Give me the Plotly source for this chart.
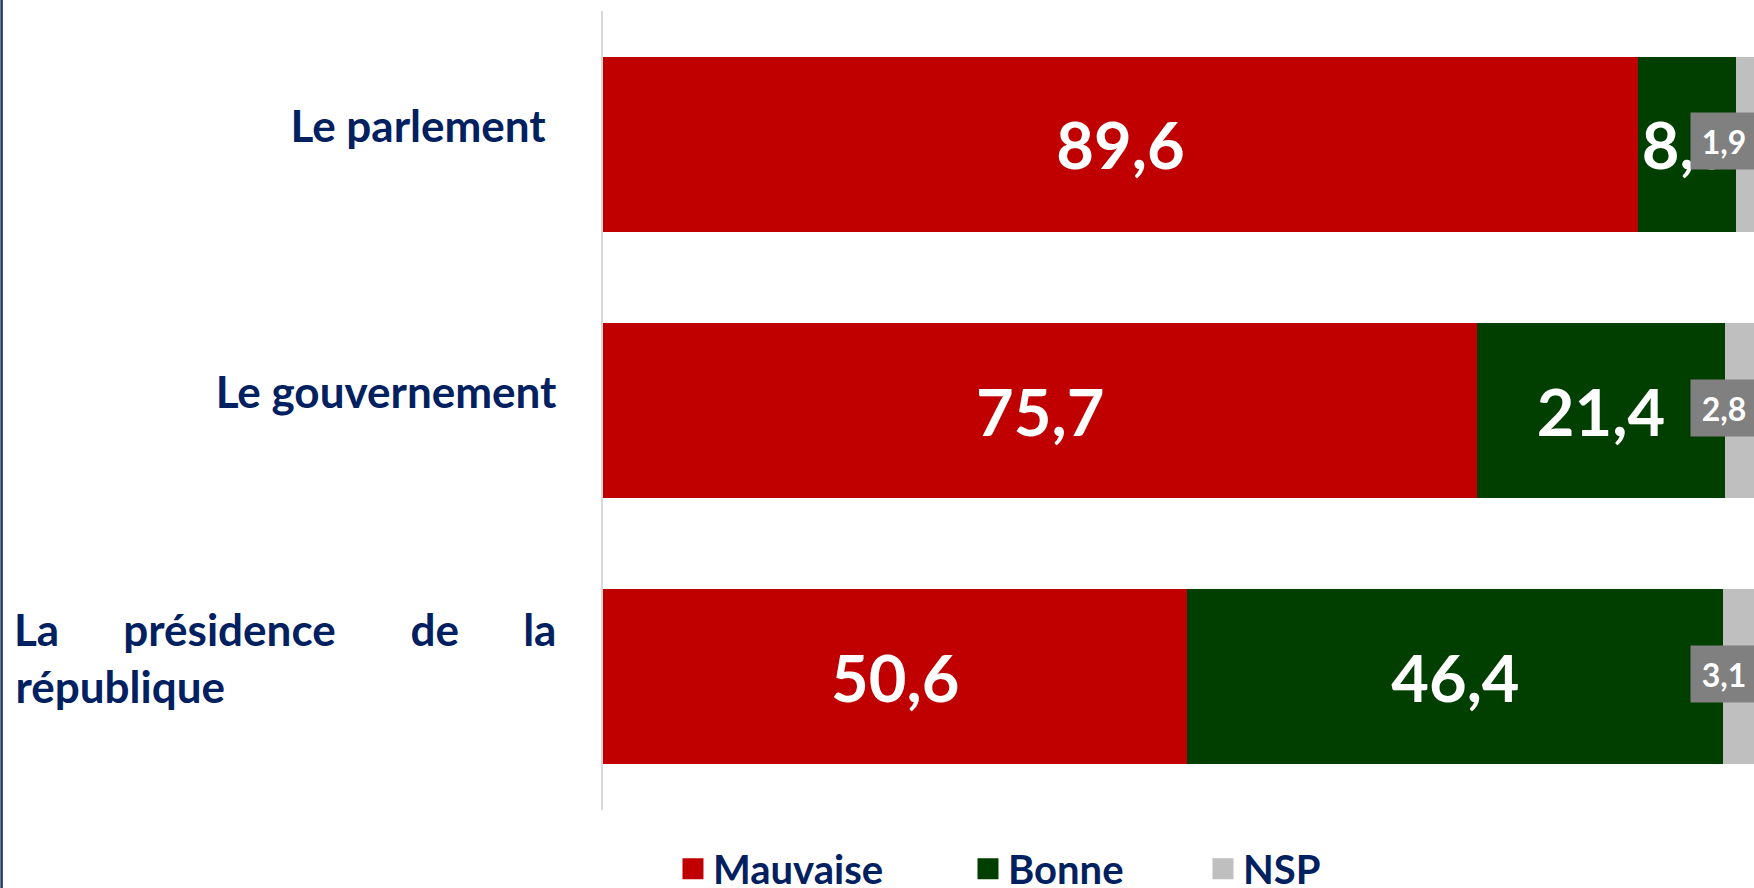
import plotly.graph_objects as go

# ---- data ----
categories = ["Le parlement", "Le gouvernement", "La présidence de la république"]
mauvaise = [89.6, 75.7, 50.6]
bonne = [8.5, 21.4, 46.4]
nsp = [1.9, 2.8, 3.1]
series_names = ["Mauvaise", "Bonne", "NSP"]
series_colors = ["#C00000", "#003F00", "#BFBFBF"]

NB = "\u00a0"
tick_text = [
    "Le parlement" + NB,
    "Le gouvernement",
    ("La" + NB * 6 + "présidence" + NB * 7 + "de" + NB * 6 + "la")
    + "<br>" + "république" + NB * 31,
]

FONT = "Lato"
NAVY = "#002060"


def fmt(v):
    return f"{v:.1f}".replace(".", ",")


fig = go.Figure()
values = [mauvaise, bonne, nsp]
for i, (name, vals, col) in enumerate(zip(series_names, values, series_colors)):
    fig.add_trace(go.Bar(
        y=categories, x=vals, orientation="h", name=name,
        marker=dict(color=col, line=dict(width=0)),
        text=[fmt(v) for v in vals] if i < 2 else None,
        textposition="inside" if i < 2 else "none",
        insidetextanchor="middle", textangle=0, constraintext="none",
        textfont=dict(family=FONT, size=65, color="white", weight="bold"),
        showlegend=False, hoverinfo="skip",
    ))

# legend entries (larger squares than bar legend icons)
legend_widths = [250, 190, 100]
for name, col, lw in zip(series_names, series_colors, legend_widths):
    fig.add_trace(go.Scatter(
        x=[None], y=[None], mode="markers", name=name,
        marker=dict(symbol="square", size=16, color=col, line=dict(color=col, width=5)),
        legendwidth=lw, showlegend=True, hoverinfo="skip",
    ))

# NSP data labels with grey boxes, pushed to the right edge of the chart area
for cat, v in zip(categories, nsp):
    fig.add_annotation(
        x=1, y=cat, xref="paper", yref="y", xanchor="right", yanchor="middle",
        text=fmt(v), showarrow=False, bgcolor="#808080",
        width=64, height=54, xshift=4, yshift=3,
        font=dict(family=FONT, size=32, color="white", weight="bold"),
    )

# left border line of the slide
fig.add_shape(type="line", xref="paper", yref="paper",
              x0=-0.5225, x1=-0.5225, y0=-0.11, y1=1.02,
              line=dict(color="#1F3864", width=2.5))

fig.update_layout(
    width=1754, height=888,
    margin=dict(l=603, r=0, t=11, b=78, autoexpand=False),
    barmode="stack", bargap=0.343,
    plot_bgcolor="white", paper_bgcolor="white",
    xaxis=dict(range=[0, 99.65], visible=False, fixedrange=True),
    yaxis=dict(
        type="category", categoryorder="array", categoryarray=categories,
        autorange="reversed", tickmode="array", tickvals=categories, ticktext=tick_text,
        showline=True, linecolor="#D9D9D9", linewidth=1.5, ticks="",
        showgrid=False, zeroline=False, automargin=False, fixedrange=True,
        tickfont=dict(family=FONT, size=44, color=NAVY, weight="bold"),
        ticklabelstandoff=36, ticklabelshift=18,
    ),
    legend=dict(
        orientation="h", x=0.0608, xanchor="left", y=-0.0735, yanchor="middle",
        traceorder="normal",
        font=dict(family=FONT, size=40, color=NAVY, weight="bold"),
        bgcolor="rgba(0,0,0,0)", itemwidth=30, tracegroupgap=0,
    ),
    showlegend=True,
)

fig.write_html(
    "out.html",
    config={"displayModeBar": False},
    post_script="document.body.style.margin='0';document.body.style.overflow='hidden';",
)
